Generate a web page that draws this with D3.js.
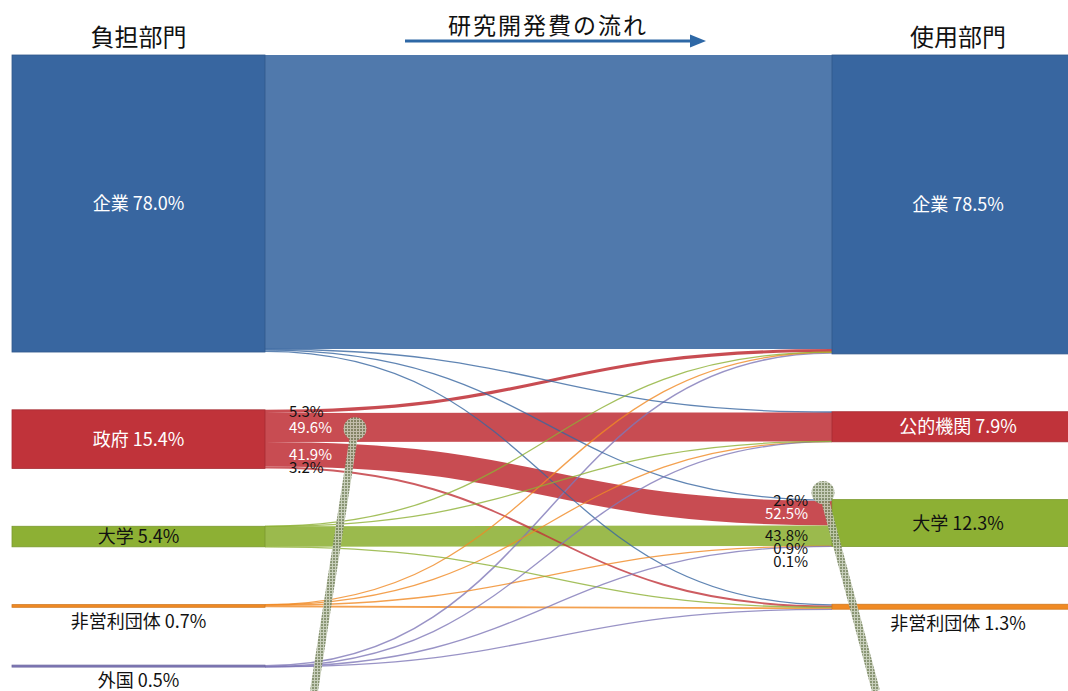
<!DOCTYPE html>
<html>
<head>
<meta charset="utf-8">
<script src="https://cdn.jsdelivr.net/npm/d3@7"></script>
<style>
  body { margin: 0; background: #fff; overflow: hidden; }
  svg { display: block; font-family: "Noto Sans CJK JP", "Noto Sans", sans-serif; }
</style>
</head>
<body>
<div id="chart"></div>
<script>
// 負担部門 (who pays) and 使用部門 (who spends), % of total R&D
const sources = ["企業", "政府", "大学", "非営利団体", "外国"];
const sourceShares = [78.0, 15.4, 5.4, 0.7, 0.5];
const targets = ["企業", "公的機関", "大学", "非営利団体"];
const targetShares = [78.5, 7.9, 12.3, 1.3];

// flows[source][target] in % of total (thin ones are rough estimates)
const flows = [
  [77.2, 0.15, 0.32, 0.33],
  [0.82, 7.64, 6.45, 0.49],
  [0.01, 0.01, 5.38, 0.01],
  [0.05, 0.05, 0.11, 0.49],
  [0.40, 0.05, 0.01, 0.04]
];

// printed shares: 政府 -> each target, each source -> 大学
const govLabels = ["5.3%", "49.6%", "41.9%", "3.2%"];
const univLabels = ["2.6%", "52.5%", "43.8%", "0.9%", "0.1%"];

const colors = {
  "企業": "#3866a0",
  "政府": "#c0333a",
  "公的機関": "#c0333a",
  "大学": "#8db034",
  "非営利団体": "#f08a24",
  "外国": "#7f78b8"
};
const insideText = { "企業": "#fff", "政府": "#fff", "公的機関": "#fff", "大学": "#111" };

const width = 1068, height = 691;
const chartTop = 55, chartBottom = 667, nodePad = 57.8;
const leftX = [12, 265], rightX = [832, 1084];

// value -> pixel height
const h = d3.scaleLinear()
  .domain([0, 100])
  .range([0, chartBottom - chartTop - nodePad * (sources.length - 1)]);

function stackNodes(names, shares, xs) {
  let y = chartTop;
  return names.map((name, i) => {
    const n = { name, value: shares[i], x0: xs[0], x1: xs[1], y0: y, y1: y + h(shares[i]) };
    y = n.y1 + nodePad;
    return n;
  });
}
const leftNodes = stackNodes(sources, sourceShares, leftX);
const rightNodes = stackNodes(targets, targetShares, rightX);

// links, stacked at the source by target order and at the target by source order
const links = [];
flows.forEach((row, si) => row.forEach((v, ti) => {
  links.push({ si, ti, value: v, w: h(v), color: colors[sources[si]] });
}));
leftNodes.forEach((n, si) => {
  let y = n.y0;
  links.filter(l => l.si === si).sort((a, b) => a.ti - b.ti).forEach(l => { l.sy = y + l.w / 2; y += l.w; });
});
rightNodes.forEach((n, ti) => {
  let y = n.y0;
  links.filter(l => l.ti === ti).sort((a, b) => a.si - b.si).forEach(l => { l.ty = y + l.w / 2; y += l.w; });
});

const svg = d3.select("#chart").append("svg").attr("width", width).attr("height", height);

// pin texture
const pat = svg.append("defs").append("pattern")
  .attr("id", "pinTex").attr("width", 3).attr("height", 3).attr("patternUnits", "userSpaceOnUse");
pat.append("rect").attr("width", 3).attr("height", 3).attr("fill", "#c3cab4");
pat.append("rect").attr("width", 2).attr("height", 2).attr("fill", "#7d8a66");

// links (thick first so thin lines sit on top)
const linkPath = d3.linkHorizontal()
  .source(l => [leftX[1], l.sy])
  .target(l => [rightX[0], l.ty]);

svg.append("g")
  .attr("fill", "none")
  .selectAll("path")
  .data(links.filter(l => l.value > 0).sort((a, b) => b.w - a.w))
  .join("path")
  .attr("d", linkPath)
  .attr("stroke", l => l.color)
  .attr("stroke-opacity", l => l.w > 3 ? 0.88 : 0.8)
  .attr("stroke-width", l => Math.max(l.w, 1.3));

// nodes
const allNodes = leftNodes.concat(rightNodes);
svg.append("g")
  .selectAll("rect")
  .data(allNodes)
  .join("rect")
  .attr("x", d => d.x0)
  .attr("y", d => d.y0)
  .attr("width", d => d.x1 - d.x0)
  .attr("height", d => Math.max(d.y1 - d.y0, 2))
  .attr("fill", d => colors[d.name])
  .attr("stroke", d => d3.color(colors[d.name]).darker(0.4))
  .attr("stroke-width", 0.8);

// node labels: inside when tall enough, otherwise below
svg.append("g")
  .attr("font-size", 18)
  .attr("text-anchor", "middle")
  .selectAll("text")
  .data(allNodes)
  .join("text")
  .attr("x", d => (d.x0 + d.x1) / 2)
  .attr("y", d => (d.y1 - d.y0) > 16 ? (d.y0 + d.y1) / 2 : d.y1 + 14)
  .attr("dy", "0.36em")
  .attr("fill", d => (d.y1 - d.y0) > 16 ? insideText[d.name] : "#111")
  .text(d => `${d.name} ${d.value.toFixed(1)}%`);

// share labels along the 政府 and 大学 links, nudged apart when crowded
function placeLabels(items, minGap) {
  let prev = -Infinity;
  items.forEach(it => { it.y = Math.max(it.y, prev + minGap); prev = it.y; });
  return items;
}
const govItems = placeLabels(
  links.filter(l => l.si === 1).sort((a, b) => a.ti - b.ti)
    .map((l, i) => ({ text: govLabels[i], y: l.sy, fill: l.w > 12 ? "#fff" : "#111" })), 12);
const univItems = placeLabels(
  links.filter(l => l.ti === 2).sort((a, b) => a.si - b.si)
    .map((l, i) => ({ text: univLabels[i], y: l.ty, fill: l.w > 12 && l.si !== 2 ? "#fff" : "#111" })), 13);

const shareG = svg.append("g").attr("font-size", 15);
shareG.selectAll("text.gov")
  .data(govItems)
  .join("text")
  .attr("class", "gov")
  .attr("x", leftX[1] + 24)
  .attr("y", d => d.y)
  .attr("dy", "0.36em")
  .attr("fill", d => d.fill)
  .text(d => d.text);
shareG.selectAll("text.univ")
  .data(univItems)
  .join("text")
  .attr("class", "univ")
  .attr("x", rightX[0] - 24)
  .attr("y", d => d.y)
  .attr("dy", "0.36em")
  .attr("text-anchor", "end")
  .attr("fill", d => d.fill)
  .text(d => d.text);

// headers
svg.append("text")
  .attr("x", (leftX[0] + leftX[1]) / 2).attr("y", 46)
  .attr("text-anchor", "middle").attr("font-size", 24).attr("fill", "#111")
  .text("負担部門");
svg.append("text")
  .attr("x", (rightX[0] + rightX[1]) / 2).attr("y", 46)
  .attr("text-anchor", "middle").attr("font-size", 24).attr("fill", "#111")
  .text("使用部門");
svg.append("text")
  .attr("x", 548).attr("y", 34)
  .attr("text-anchor", "middle").attr("font-size", 23).attr("letter-spacing", 2)
  .attr("fill", "#111")
  .text("研究開発費の流れ");

// flow arrow
svg.append("line")
  .attr("x1", 405).attr("x2", 692).attr("y1", 41).attr("y2", 41)
  .attr("stroke", "#2e68a6").attr("stroke-width", 3);
svg.append("path")
  .attr("d", d3.line()([[690, 34.5], [706, 41], [690, 47.5]]) + "Z")
  .attr("fill", "#2e68a6");

// the two pins stuck on the picture
const pins = [
  { cx: leftX[1] + 90, cy: leftNodes[1].y0 + 19, ex: 314, ey: height },
  { cx: rightX[0] - 9, cy: rightNodes[2].y0 - 7, ex: 876, ey: height }
];
const pinG = svg.append("g").attr("opacity", 0.9);
pinG.selectAll("line")
  .data(pins)
  .join("line")
  .attr("x1", d => d.cx).attr("y1", d => d.cy)
  .attr("x2", d => d.ex).attr("y2", d => d.ey)
  .attr("stroke", "url(#pinTex)")
  .attr("stroke-width", 8);
pinG.selectAll("circle")
  .data(pins)
  .join("circle")
  .attr("cx", d => d.cx).attr("cy", d => d.cy)
  .attr("r", 11.5)
  .attr("fill", "url(#pinTex)");
</script>
</body>
</html>
